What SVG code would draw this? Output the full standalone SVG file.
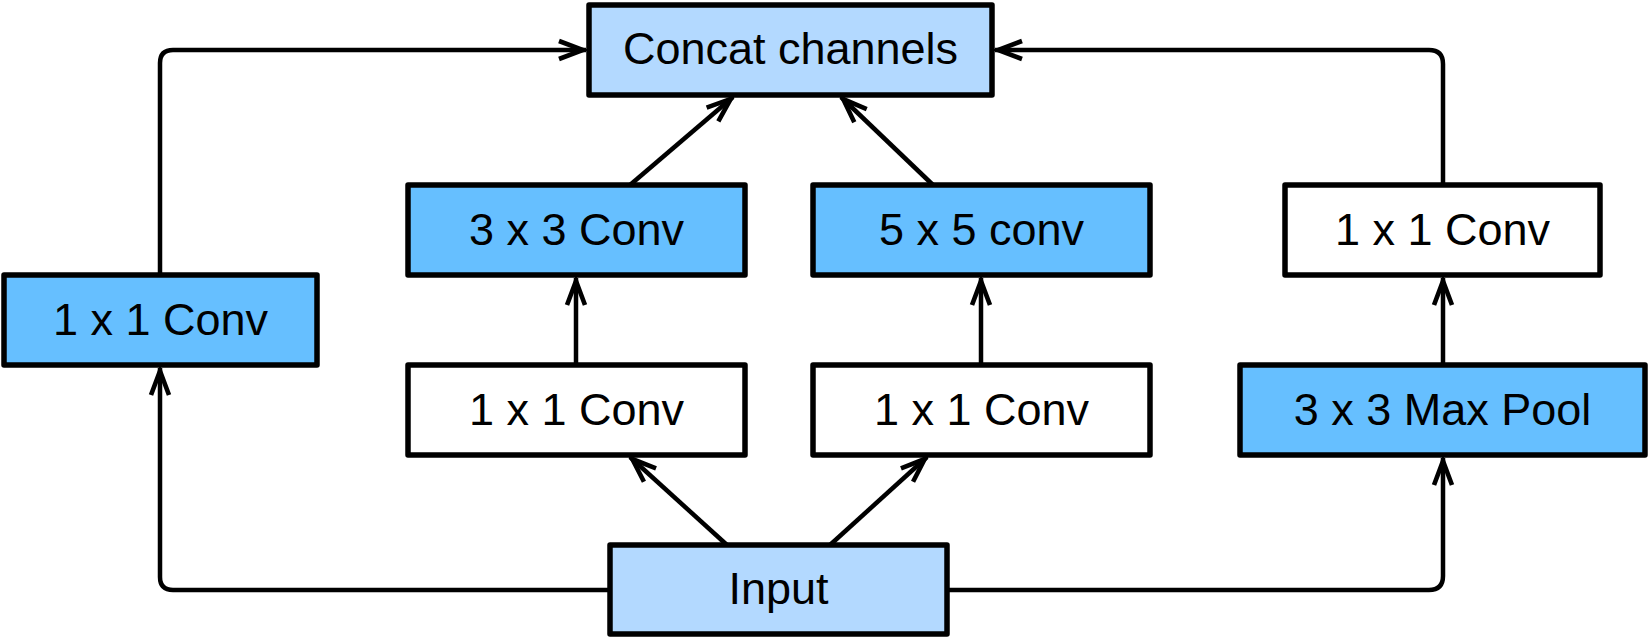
<svg xmlns="http://www.w3.org/2000/svg" width="1652" height="640" viewBox="0 0 1652 640">
<defs>
<style>
.box{stroke:#000;stroke-width:5.5;stroke-linejoin:round}
.light{fill:#b3d9ff}
.dark{fill:#66bfff}
.white{fill:#fff}
.lbl{font-family:"Liberation Sans",Arial,sans-serif;font-size:45px;fill:#000;text-anchor:middle}
.edge{fill:none;stroke:#000;stroke-width:4.5;marker-end:url(#arr)}
</style>
<marker id="arr" viewBox="-32 -12 34 24" refX="0" refY="0" markerWidth="34" markerHeight="24" markerUnits="userSpaceOnUse" orient="auto">
<path d="M-27,-9 L-3,0 L-27,9" fill="none" stroke="#000" stroke-width="4.6" stroke-linejoin="miter"/>
</marker>
</defs>
<rect width="1652" height="640" fill="#fff"/>
<g id="connectors">
<path class="edge" d="M610,590 H173 Q160,590 160,577 V368"/>
<path class="edge" d="M160,275 V63 Q160,50 173,50 H586"/>
<path class="edge" d="M1443,185 V64 Q1443,50 1429,50 H995"/>
<path class="edge" d="M947,590 H1429 Q1443,590 1443,576 V458"/>
<path class="edge" d="M1443,365 V278"/>
<path class="edge" d="M576,365 V278"/>
<path class="edge" d="M981,365 V278"/>
<path class="edge" d="M727,545 L630,457"/>
<path class="edge" d="M830,545 L927,457"/>
<path class="edge" d="M630,185 L733,97"/>
<path class="edge" d="M933,185 L841,97"/>
</g>
<g id="concat">
<rect class="box light" x="589" y="5" width="403" height="90"/>
<text class="lbl" x="790.5" y="64">Concat channels</text>
</g>
<g id="conv1x1_left">
<rect class="box dark" x="4" y="275" width="313" height="90"/>
<text class="lbl" x="160.5" y="335">1 x 1 Conv</text>
</g>
<g id="conv3x3">
<rect class="box dark" x="408" y="185" width="337" height="90"/>
<text class="lbl" x="576.5" y="245">3 x 3 Conv</text>
</g>
<g id="conv1x1_a">
<rect class="box white" x="408" y="365" width="337" height="90"/>
<text class="lbl" x="576.5" y="425">1 x 1 Conv</text>
</g>
<g id="conv5x5">
<rect class="box dark" x="813" y="185" width="337" height="90"/>
<text class="lbl" x="981.5" y="245">5 x 5 conv</text>
</g>
<g id="conv1x1_b">
<rect class="box white" x="813" y="365" width="337" height="90"/>
<text class="lbl" x="981.5" y="425">1 x 1 Conv</text>
</g>
<g id="conv1x1_right">
<rect class="box white" x="1285" y="185" width="315" height="90"/>
<text class="lbl" x="1442.5" y="245">1 x 1 Conv</text>
</g>
<g id="maxpool">
<rect class="box dark" x="1240" y="365" width="405" height="90"/>
<text class="lbl" x="1442.5" y="425">3 x 3 Max Pool</text>
</g>
<g id="input">
<rect class="box light" x="610" y="545" width="337" height="89"/>
<text class="lbl" x="778.5" y="604">Input</text>
</g>
</svg>
